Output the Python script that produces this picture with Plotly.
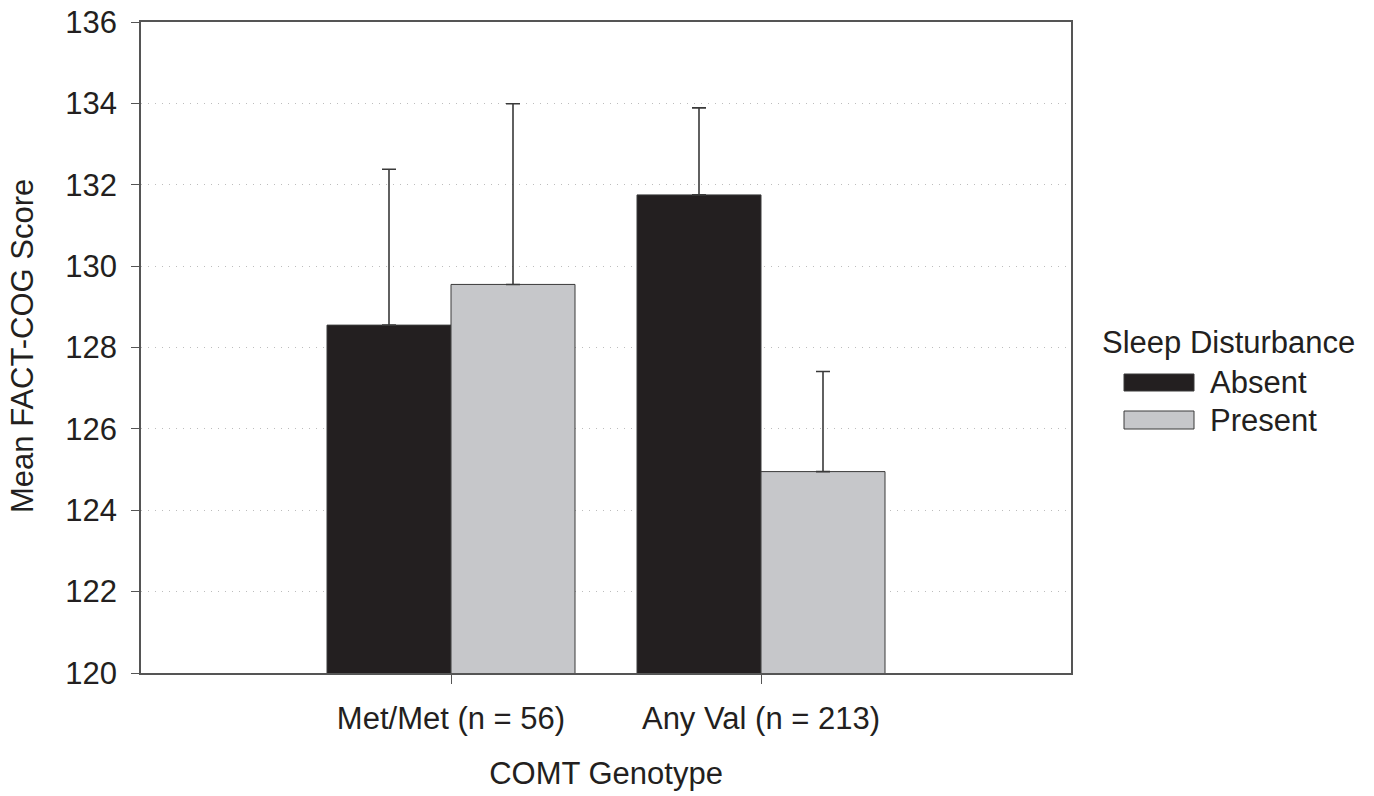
import plotly.graph_objects as go

categories = ["Met/Met (n = 56)", "Any Val (n = 213)"]
absent_means = [128.55, 131.75]
absent_err = [3.83, 2.14]
present_means = [129.55, 124.95]
present_err = [4.44, 2.46]
y_ticks = [120, 122, 124, 126, 128, 130, 132, 134, 136]

FONT = "Liberation Sans, Arial, sans-serif"
W, H = 1374, 796
L, R, T, B = 141, 303, 22, 123
PW, PH = W - L - R, H - T - B

def px(x):
    return (x - L) / PW

def py(y):
    return (H - B - y) / PH

fig = go.Figure()
fig.add_trace(go.Bar(
    x=categories, y=absent_means, name="Absent",
    marker=dict(color="#231f20", line=dict(color="#3a3a3a", width=1)),
    error_y=dict(type="data", array=absent_err, symmetric=False,
                 arrayminus=[0, 0], color="#3a3a3a", thickness=1.6, width=7),
))
fig.add_trace(go.Bar(
    x=categories, y=present_means, name="Present",
    marker=dict(color="#c6c7ca", line=dict(color="#3a3a3a", width=1)),
    error_y=dict(type="data", array=present_err, symmetric=False,
                 arrayminus=[0, 0], color="#3a3a3a", thickness=1.6, width=7),
))

fig.update_layout(
    width=W, height=H,
    margin=dict(l=L, r=R, t=T, b=B, autoexpand=False),
    barmode="group", bargap=0.2, bargroupgap=0,
    plot_bgcolor="white", paper_bgcolor="white",
    showlegend=False,
    font=dict(family=FONT, size=31, color="#231f20"),
)
fig.update_xaxes(
    type="category", range=[-1, 2], automargin=False,
    showline=True, linecolor="#555555", linewidth=1.5, mirror=True,
    ticks="outside", ticklen=9, tickcolor="#555555", tickwidth=1,
    showgrid=False, ticklabelstandoff=8,
    tickfont=dict(size=31),
    title=dict(text="COMT Genotype", font=dict(size=31), standoff=27),
)
fig.update_yaxes(
    range=[120, 136], tickvals=y_ticks, automargin=False,
    showline=True, linecolor="#555555", linewidth=1.5, mirror=True,
    ticks="outside", ticklen=8, tickcolor="#555555", tickwidth=1,
    showgrid=True, gridcolor="#bdbdbd", griddash="1px,6px", gridwidth=1,
    zeroline=False, ticklabelstandoff=8,
    tickfont=dict(size=31),
)

# y-axis title
fig.add_annotation(xref="paper", yref="paper", x=px(23), y=py(346),
                   text="Mean FACT-COG Score", showarrow=False, textangle=-90,
                   xanchor="center", yanchor="middle", font=dict(size=31))

# custom legend
fig.add_annotation(xref="paper", yref="paper", x=px(1100), y=py(342),
                   text="Sleep Disturbance", showarrow=False,
                   xanchor="left", yanchor="middle", font=dict(size=31))
legend_items = [("Absent", "#231f20", 374, 391, 382),
                ("Present", "#c6c7ca", 411, 429, 420)]
for name, col, y0, y1, yc in legend_items:
    fig.add_shape(type="rect", xref="paper", yref="paper",
                  x0=px(1124), x1=px(1194), y0=py(y1), y1=py(y0),
                  fillcolor=col, line=dict(color="#3a3a3a", width=1))
    fig.add_annotation(xref="paper", yref="paper", x=px(1208), y=py(yc),
                       text=name, showarrow=False, xanchor="left",
                       yanchor="middle", font=dict(size=31))

fig.write_html("out.html")
